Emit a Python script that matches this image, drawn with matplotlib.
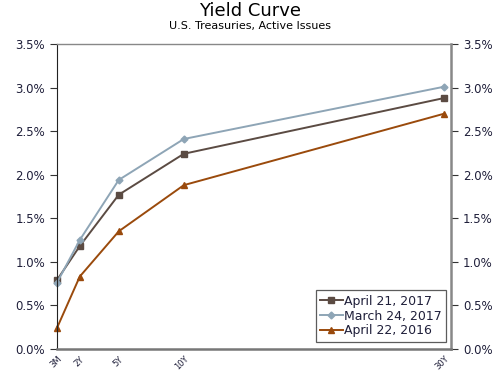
import matplotlib.pyplot as plt
import numpy as np

maturity_labels = ['3M', '2Y', '5Y', '10Y', '30Y']
maturity_years = [0.25, 2, 5, 10, 30]

apr_21_2017 = [0.79, 1.18, 1.77, 2.24, 2.88]
mar_24_2017 = [0.76, 1.25, 1.94, 2.41, 3.01]
apr_22_2016 = [0.24, 0.83, 1.35, 1.88, 2.70]

txt = '#1f1f3a'

fig = plt.figure(figsize=(5, 3.8), dpi=100)
ax = fig.add_axes([0.114, 0.082, 0.788, 0.802])

ax.plot(maturity_years, apr_21_2017, color='#5b4b43', marker='s', markersize=4,
        linewidth=1.4, label='April 21, 2017', clip_on=False)
ax.plot(maturity_years, mar_24_2017, color='#8ea5b6', marker='D', markersize=3.5,
        linewidth=1.4, label='March 24, 2017', clip_on=False)
ax.plot(maturity_years, apr_22_2016, color='#9a4a0c', marker='^', markersize=4,
        linewidth=1.4, label='April 22, 2016', clip_on=False)

ax.set_xlim(0.25, 30.54)
ax.set_ylim(0, 3.5)
ax.set_xticks(maturity_years)
ax.set_xticklabels(maturity_labels, rotation=45, fontsize=6, ha='right',
                   rotation_mode='anchor', color=txt)
ax.tick_params(axis='x', length=0, pad=4)

yt = np.arange(0, 3.51, 0.5)
ax.set_yticks(yt)
ax.set_yticklabels(['%.1f%%' % v for v in yt], fontsize=8.5, color=txt)
ax.tick_params(axis='y', direction='out', length=5, labelright=True, right=True,
               color='#333333')

ax.spines['top'].set_color('#888888')
ax.spines['top'].set_linewidth(1.0)
ax.spines['left'].set_color('#222222')
ax.spines['bottom'].set_color('#777777')
ax.spines['bottom'].set_linewidth(1.8)
ax.spines['right'].set_color('#888888')
ax.spines['right'].set_linewidth(1.8)

leg = ax.legend(loc='lower right', fontsize=9, frameon=True, fancybox=False,
                handlelength=1.8, handletextpad=0.1, borderpad=0.35,
                labelspacing=0.15, borderaxespad=0,
                bbox_to_anchor=(0.987, 0.023), labelcolor=txt)
leg.get_frame().set_edgecolor('#333333')
leg.get_frame().set_linewidth(0.9)

fig.text(0.5, 0.971, 'Yield Curve', ha='center', va='center', fontsize=13)
fig.text(0.5, 0.932, 'U.S. Treasuries, Active Issues', ha='center', va='center',
         fontsize=8)

fig.savefig('out.png', dpi=100)
